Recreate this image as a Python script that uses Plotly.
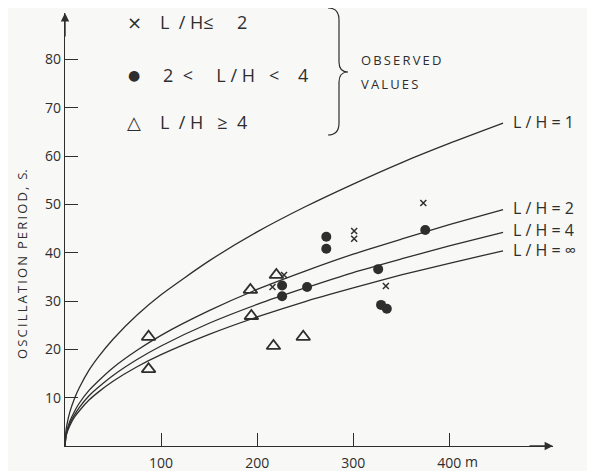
import plotly.graph_objects as go

# ---- data ----
curve_x = [0, 1, 2, 5, 10, 15, 25, 35, 50, 75, 100, 150, 200, 250, 300, 350, 400, 456]
curve_lh1 = [0, 3.1, 4.4, 7.0, 9.9, 12.1, 15.7, 18.5, 22.1, 27.1, 31.3, 38.3, 44.3, 49.5, 54.2, 58.6, 62.6, 66.8]
curve_lh2 = [0, 2.3, 3.2, 5.1, 7.2, 8.9, 11.5, 13.5, 16.2, 19.8, 22.9, 28.0, 32.4, 36.2, 39.7, 42.8, 45.8, 48.9]
curve_lh4 = [0, 2.1, 2.9, 4.6, 6.5, 8.0, 10.4, 12.2, 14.6, 17.9, 20.7, 25.4, 29.3, 32.7, 35.9, 38.7, 41.4, 44.2]
curve_lhinf = [0, 1.9, 2.7, 4.2, 6.0, 7.3, 9.5, 11.2, 13.4, 16.4, 18.9, 23.1, 26.7, 29.9, 32.7, 35.4, 37.8, 40.4]
curve_labels = ["L / H = 1", "L / H = 2", "L / H = 4", "L / H = ∞"]

cross_x = [216, 228, 301, 301, 334, 373]
cross_y = [32.9, 35.4, 44.5, 42.9, 33.1, 50.3]

dot_x = [226, 226, 252, 272, 272, 326, 329, 335, 375]
dot_y = [33.2, 31.0, 32.9, 43.3, 40.8, 36.6, 29.2, 28.4, 44.7]

tri_x = [87, 87, 193, 194, 217, 220, 248]
tri_y = [22.6, 15.9, 32.3, 26.9, 20.7, 35.4, 22.6]

x_ticks = [100, 200, 300, 400]
x_ticktext = ["100", "200", "300", "400"]
y_ticks = [10, 20, 30, 40, 50, 60, 70, 80]

NB = "\u00a0"
legend_names = [f"L{NB}{NB}/{NB}H≤{NB}{NB}{NB}{NB}{NB}2",
                f"2{NB}{NB}<{NB}{NB}{NB}{NB}{NB}L{NB}/{NB}H{NB}{NB}{NB}<{NB}{NB}{NB}{NB}4",
                f"L{NB}{NB}/{NB}H{NB}{NB}{NB}≥{NB}{NB}4"]
legend_glyphs = ["×", "●", "△"]

INK = "#2e2e2e"
BG = "#f8f8f6"
FONT = "Open Sans"

fig = go.Figure()

for ys in [curve_lh1, curve_lh2, curve_lh4, curve_lhinf]:
    fig.add_trace(go.Scatter(x=curve_x, y=ys, mode="lines",
                             line=dict(color=INK, width=1.3, shape="spline", smoothing=0.6),
                             showlegend=False, hoverinfo="skip"))

fig.add_trace(go.Scatter(x=cross_x, y=cross_y, mode="markers", name=legend_names[0],
                         marker=dict(symbol="x-thin", size=6, color=INK,
                                     line=dict(color=INK, width=1.5)),
                         showlegend=False))
fig.add_trace(go.Scatter(x=dot_x, y=dot_y, mode="markers", name=legend_names[1],
                         marker=dict(symbol="circle", size=10, color=INK),
                         showlegend=False))
fig.add_trace(go.Scatter(x=tri_x, y=tri_y, mode="markers", name=legend_names[2],
                         marker=dict(symbol="triangle-up-open", size=12, color=INK,
                                     line=dict(color=INK, width=1.8)),
                         showlegend=False))

# page body has an 8px margin; work in reference pixel coordinates
OFF = 8
W, H = 595 - OFF, 471 - OFF
L, R, T, B = 65 - OFF, 42, 13 - OFF, 25
pw, ph = W - L - R, H - T - B


def px(xp, yp):
    """reference-picture pixel -> paper coordinates"""
    return (xp - OFF - L) / pw, (H - B - (yp - OFF)) / ph


annotations = []

# key (legend) for the observed values
glyph_sizes = [18, 14, 18]
for glyph, gsize, name, row_y, text_x in zip(legend_glyphs, glyph_sizes, legend_names,
                                             [22, 75, 122], [158, 161, 158]):
    gx, gy = px(134, row_y)
    annotations.append(dict(x=gx, y=gy, xref="paper", yref="paper", text=glyph,
                            showarrow=False, xanchor="center", yanchor="middle",
                            font=dict(family="DejaVu Sans", size=gsize, color=INK)))
    tx, ty = px(text_x, row_y)
    annotations.append(dict(x=tx, y=ty, xref="paper", yref="paper", text=name,
                            showarrow=False, xanchor="left", yanchor="middle",
                            font=dict(family=FONT, size=18, color=INK)))

# curve labels
for lab, ypix in zip(curve_labels, [122, 208, 230, 250]):
    xp, yp = px(511, ypix)
    annotations.append(dict(x=xp, y=yp, xref="paper", yref="paper", text=lab,
                            showarrow=False, xanchor="left", yanchor="middle",
                            font=dict(family=FONT, size=16, color=INK)))

# y-axis title
TS = "\u2009"
title = TS.join(list("OSCILLATION")) + NB + NB + TS.join(list("PERIOD,")) + NB + NB + "S."
xp, yp = px(22, 264)
annotations.append(dict(x=xp, y=yp, xref="paper", yref="paper",
                        text=title, textangle=-90, xanchor="center", yanchor="middle",
                        showarrow=False, font=dict(family=FONT, size=13, color=INK)))

# "m" unit after 400
xp, yp = px(471, 462)
annotations.append(dict(x=xp, y=yp, xref="paper", yref="paper", text="m",
                        showarrow=False, xanchor="center", yanchor="middle",
                        font=dict(family=FONT, size=14, color=INK)))

# observed values
xp, yp = px(359, 60)
annotations.append(dict(x=xp, y=yp, xref="paper", yref="paper",
                        text=TS.join(list("OBSERVED")),
                        showarrow=False, xanchor="left", yanchor="middle",
                        font=dict(family=FONT, size=13, color=INK)))
xp, yp = px(359, 84)
annotations.append(dict(x=xp, y=yp, xref="paper", yref="paper",
                        text=TS.join(list("VALUES")),
                        showarrow=False, xanchor="left", yanchor="middle",
                        font=dict(family=FONT, size=13, color=INK)))

# axis arrows
annotations.append(dict(x=0, y=1, xref="paper", yref="paper", ax=0, ay=25,
                        text="", showarrow=True, arrowhead=2, arrowsize=1.2,
                        arrowwidth=1.4, arrowcolor=INK))
annotations.append(dict(x=1.0, y=0, xref="paper", yref="paper", ax=-25, ay=0,
                        text="", showarrow=True, arrowhead=2, arrowsize=1.2,
                        arrowwidth=1.4, arrowcolor=INK))

# brace
pts = [(328, 8), (339, 8), (339, 20), (339, 62), (339, 72), (348, 72),
       (339, 72), (339, 82), (339, 123), (339, 135), (328, 135)]
pp = [px(a, b) for a, b in pts]
path = (f"M {pp[0][0]},{pp[0][1]} Q {pp[1][0]},{pp[1][1]} {pp[2][0]},{pp[2][1]} "
        f"L {pp[3][0]},{pp[3][1]} Q {pp[4][0]},{pp[4][1]} {pp[5][0]},{pp[5][1]} "
        f"Q {pp[6][0]},{pp[6][1]} {pp[7][0]},{pp[7][1]} "
        f"L {pp[8][0]},{pp[8][1]} Q {pp[9][0]},{pp[9][1]} {pp[10][0]},{pp[10][1]}")
shapes = [dict(type="path", path=path, xref="paper", yref="paper",
               line=dict(color=INK, width=1.2))]

fig.update_layout(
    width=W, height=H,
    margin=dict(l=L, r=R, t=T, b=B),
    paper_bgcolor=BG, plot_bgcolor=BG,
    font=dict(family=FONT, size=14, color=INK),
    showlegend=False,
    annotations=annotations,
    shapes=shapes,
    xaxis=dict(range=[0, 508], showgrid=False, zeroline=False, showline=True,
               linecolor=INK, linewidth=1.4, ticks="inside", ticklen=13,
               tickwidth=1.2, tickcolor=INK, tickvals=x_ticks, ticktext=x_ticktext,
               ticklabelstandoff=4, automargin=False, fixedrange=True),
    yaxis=dict(range=[0, 89.6], showgrid=False, zeroline=False, showline=True,
               linecolor=INK, linewidth=1.4, ticks="inside", ticklen=13,
               tickwidth=1.2, tickcolor=INK, tickvals=y_ticks,
               automargin=False, fixedrange=True),
)

fig.write_html("out.html")
